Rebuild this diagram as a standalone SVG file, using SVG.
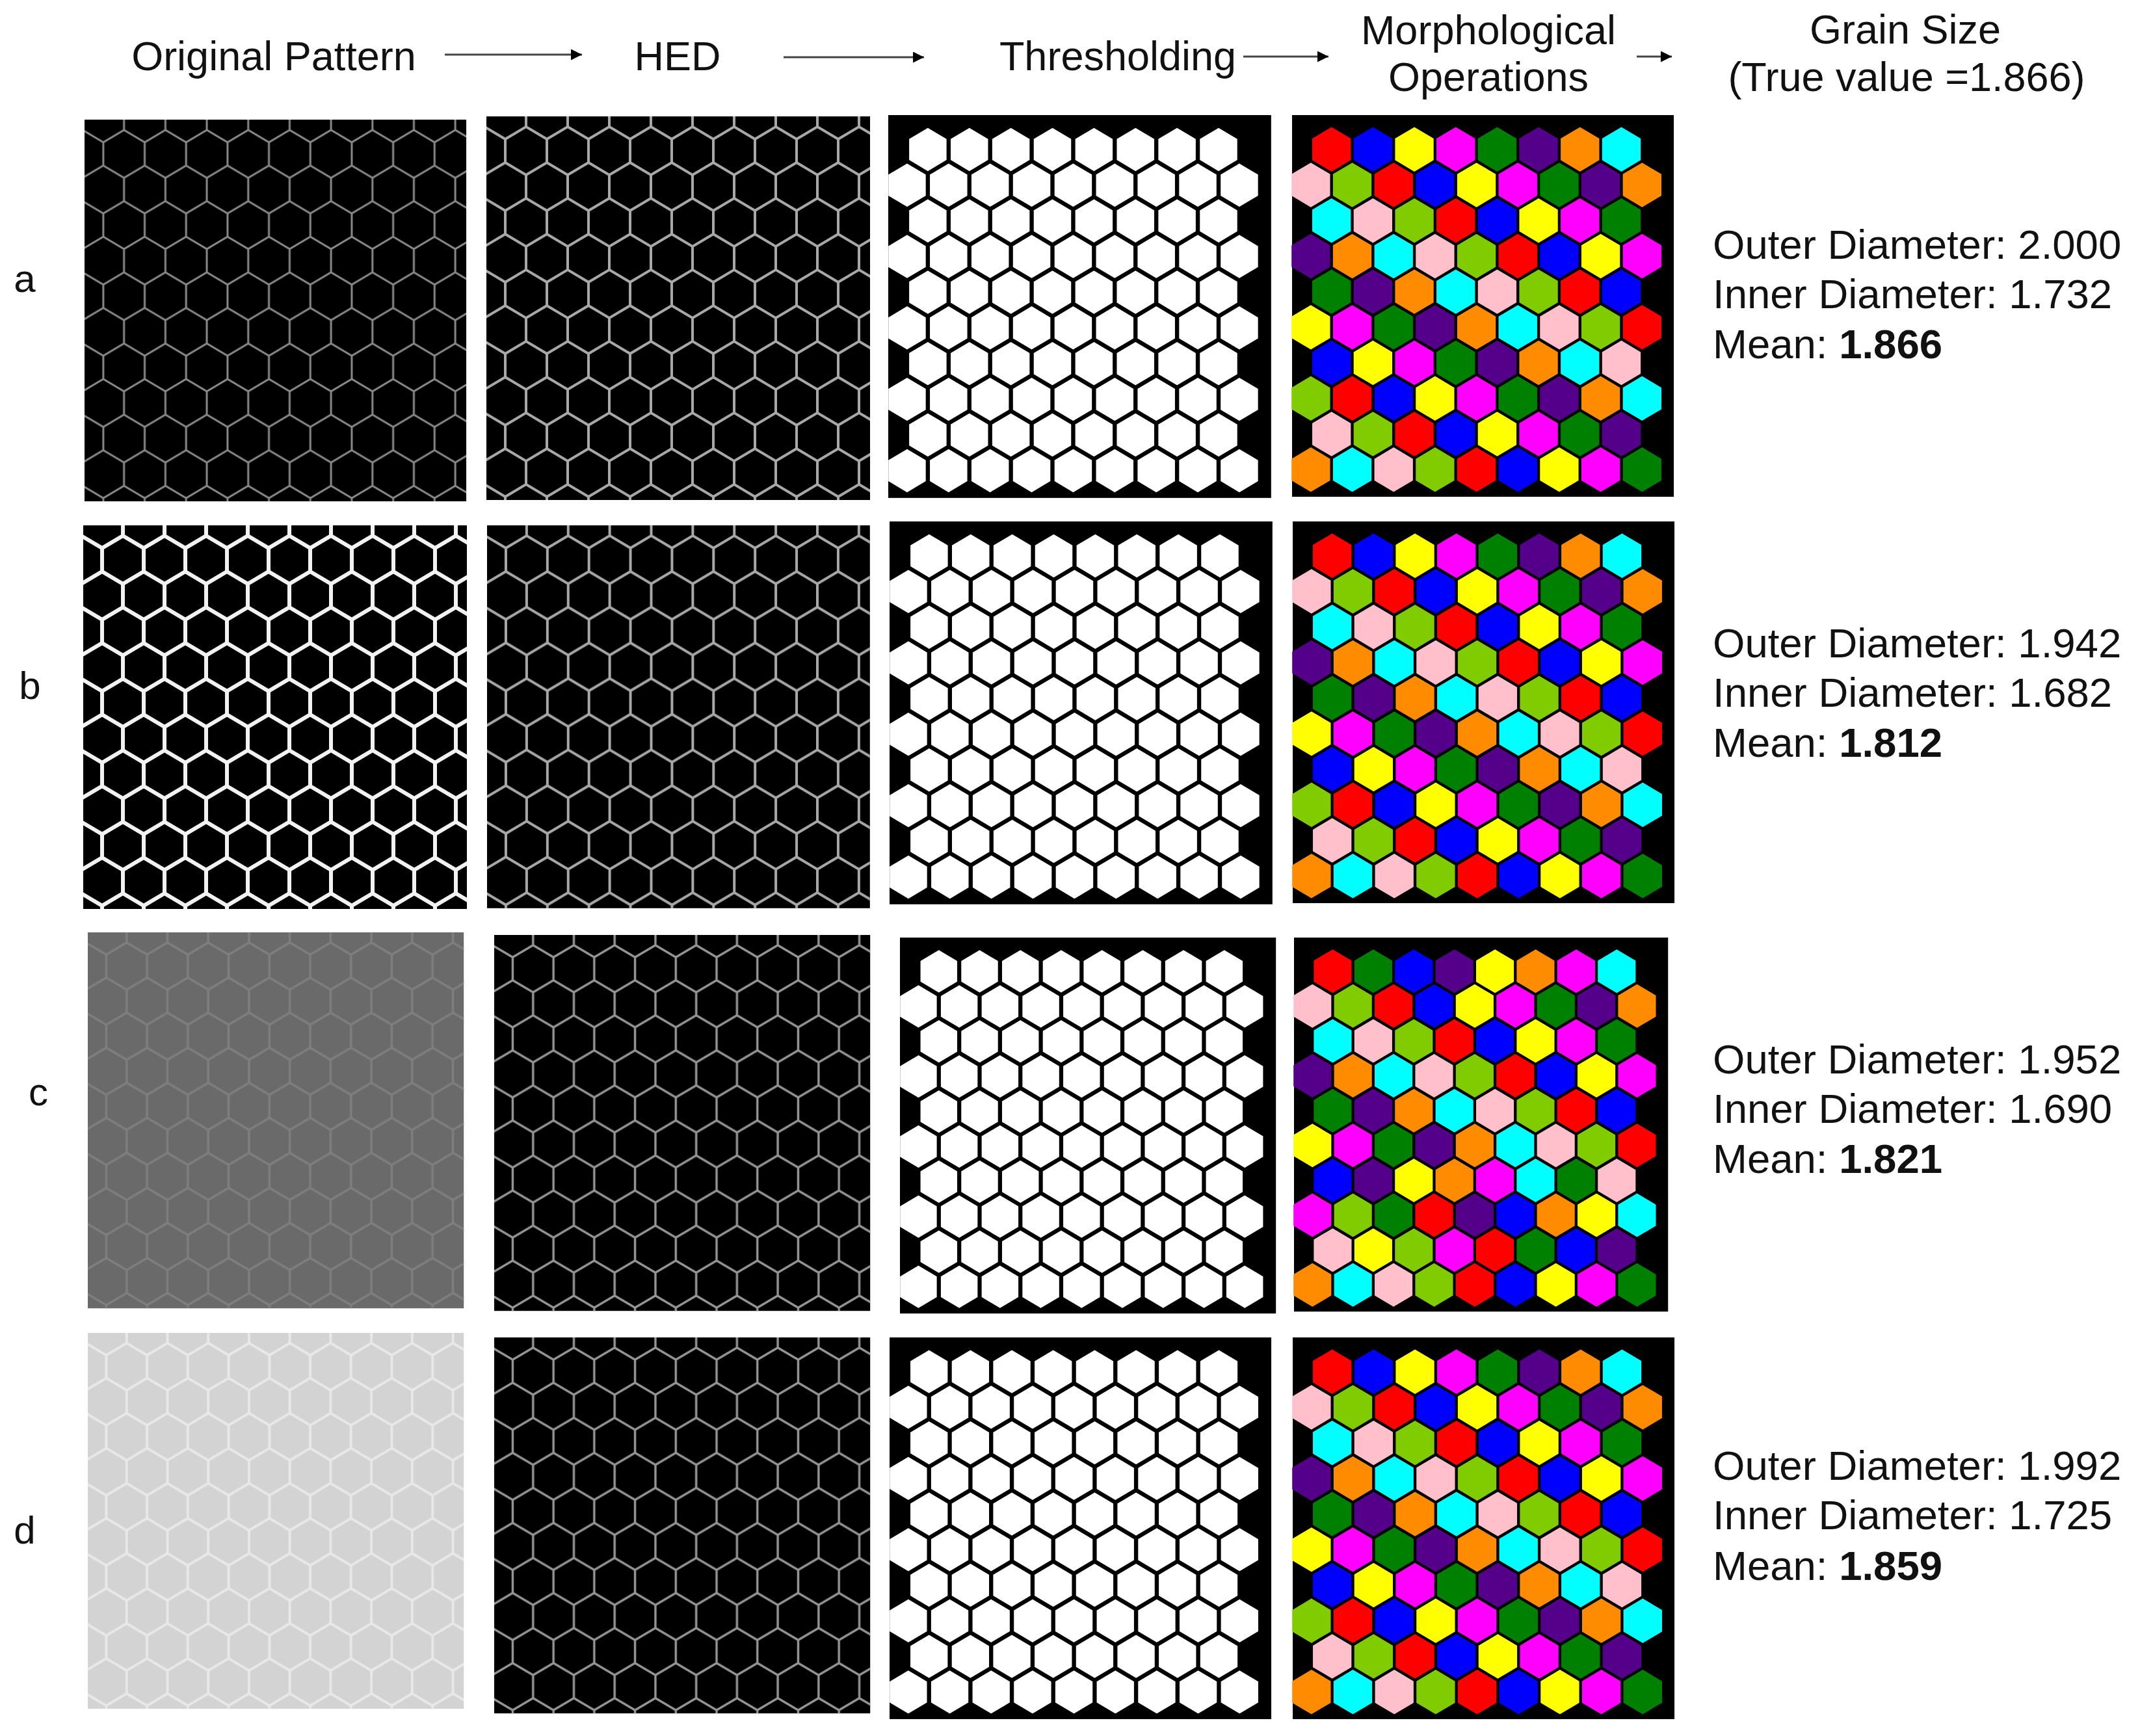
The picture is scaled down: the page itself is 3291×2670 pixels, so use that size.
<svg xmlns="http://www.w3.org/2000/svg" width="3291" height="2670" viewBox="0 0 3291 2670">
<style>
text{font-family:"Liberation Sans",Arial,Helvetica,sans-serif;fill:#111}
.h{font-size:63px;text-anchor:middle}
.lbl{font-size:60px;text-anchor:middle}
.v{font-size:63.5px}
.b{font-weight:bold}
.R{fill:#ff0000}.B{fill:#0000ff}.Y{fill:#ffff00}.M{fill:#ff00ff}.G{fill:#008000}
.P{fill:#55008a}.O{fill:#ff8c00}.C{fill:#00ffff}.K{fill:#ffc0cb}.L{fill:#80cc00}
.conn{stroke:#444;stroke-width:3;fill:none}
</style>
<defs>
<path id="tl" fill="none" d="M0,-37L32,-18L32,18L0,37L-32,18L-32,-18Z M64,-37L96,-18L96,18L64,37L32,18L32,-18Z M32,18L64,37L64,73L32,92L0,73L0,37Z M0,73L32,92L32,128L0,147L-32,128L-32,92Z M64,73L96,92L96,128L64,147L32,128L32,92Z"/>
<pattern id="pA" patternUnits="userSpaceOnUse" x="61" y="53" width="64" height="110"><use href="#tl" stroke="#8a8a8a" stroke-width="3"/></pattern>
<pattern id="pB" patternUnits="userSpaceOnUse" x="61" y="53" width="64" height="110"><use href="#tl" stroke="#f2f2f2" stroke-width="6"/></pattern>
<pattern id="pC" patternUnits="userSpaceOnUse" x="61" y="53" width="64" height="110"><use href="#tl" stroke="#7e7e7e" stroke-width="3.5"/></pattern>
<pattern id="pD" patternUnits="userSpaceOnUse" x="61" y="53" width="64" height="110"><use href="#tl" stroke="#e8e8e8" stroke-width="4"/></pattern>
<pattern id="pH" patternUnits="userSpaceOnUse" x="61" y="53" width="64" height="110"><use href="#tl" stroke="#a8a8a8" stroke-width="4"/></pattern>
<pattern id="pH2" patternUnits="userSpaceOnUse" x="61" y="53" width="64" height="110"><use href="#tl" stroke="#959595" stroke-width="3.5"/></pattern>
<path id="ht" d="M0,-33.3L28.8,-16.2L28.8,16.2L0,33.3L-28.8,16.2L-28.8,-16.2Z"/>
<path id="hm" d="M0,-34.4L29.8,-16.7L29.8,16.7L0,34.4L-29.8,16.7L-29.8,-16.7Z"/>
<g id="thr" fill="#fff">
<g transform="translate(0,53)"><use href="#ht" x="61"/><use href="#ht" x="125"/><use href="#ht" x="189"/><use href="#ht" x="253"/><use href="#ht" x="317"/><use href="#ht" x="381"/><use href="#ht" x="445"/><use href="#ht" x="509"/></g>
<g transform="translate(0,108)"><use href="#ht" x="29"/><use href="#ht" x="93"/><use href="#ht" x="157"/><use href="#ht" x="221"/><use href="#ht" x="285"/><use href="#ht" x="349"/><use href="#ht" x="413"/><use href="#ht" x="477"/><use href="#ht" x="541"/></g>
<g transform="translate(0,163)"><use href="#ht" x="61"/><use href="#ht" x="125"/><use href="#ht" x="189"/><use href="#ht" x="253"/><use href="#ht" x="317"/><use href="#ht" x="381"/><use href="#ht" x="445"/><use href="#ht" x="509"/></g>
<g transform="translate(0,218)"><use href="#ht" x="29"/><use href="#ht" x="93"/><use href="#ht" x="157"/><use href="#ht" x="221"/><use href="#ht" x="285"/><use href="#ht" x="349"/><use href="#ht" x="413"/><use href="#ht" x="477"/><use href="#ht" x="541"/></g>
<g transform="translate(0,273)"><use href="#ht" x="61"/><use href="#ht" x="125"/><use href="#ht" x="189"/><use href="#ht" x="253"/><use href="#ht" x="317"/><use href="#ht" x="381"/><use href="#ht" x="445"/><use href="#ht" x="509"/></g>
<g transform="translate(0,328)"><use href="#ht" x="29"/><use href="#ht" x="93"/><use href="#ht" x="157"/><use href="#ht" x="221"/><use href="#ht" x="285"/><use href="#ht" x="349"/><use href="#ht" x="413"/><use href="#ht" x="477"/><use href="#ht" x="541"/></g>
<g transform="translate(0,383)"><use href="#ht" x="61"/><use href="#ht" x="125"/><use href="#ht" x="189"/><use href="#ht" x="253"/><use href="#ht" x="317"/><use href="#ht" x="381"/><use href="#ht" x="445"/><use href="#ht" x="509"/></g>
<g transform="translate(0,438)"><use href="#ht" x="29"/><use href="#ht" x="93"/><use href="#ht" x="157"/><use href="#ht" x="221"/><use href="#ht" x="285"/><use href="#ht" x="349"/><use href="#ht" x="413"/><use href="#ht" x="477"/><use href="#ht" x="541"/></g>
<g transform="translate(0,493)"><use href="#ht" x="61"/><use href="#ht" x="125"/><use href="#ht" x="189"/><use href="#ht" x="253"/><use href="#ht" x="317"/><use href="#ht" x="381"/><use href="#ht" x="445"/><use href="#ht" x="509"/></g>
<g transform="translate(0,548)"><use href="#ht" x="29"/><use href="#ht" x="93"/><use href="#ht" x="157"/><use href="#ht" x="221"/><use href="#ht" x="285"/><use href="#ht" x="349"/><use href="#ht" x="413"/><use href="#ht" x="477"/><use href="#ht" x="541"/></g>
</g>
<g id="morphA">
<g transform="translate(0,53)"><use href="#hm" x="61" class="R"/><use href="#hm" x="125" class="B"/><use href="#hm" x="189" class="Y"/><use href="#hm" x="253" class="M"/><use href="#hm" x="317" class="G"/><use href="#hm" x="381" class="P"/><use href="#hm" x="445" class="O"/><use href="#hm" x="509" class="C"/></g>
<g transform="translate(0,108)"><use href="#hm" x="29" class="K"/><use href="#hm" x="93" class="L"/><use href="#hm" x="157" class="R"/><use href="#hm" x="221" class="B"/><use href="#hm" x="285" class="Y"/><use href="#hm" x="349" class="M"/><use href="#hm" x="413" class="G"/><use href="#hm" x="477" class="P"/><use href="#hm" x="541" class="O"/></g>
<g transform="translate(0,163)"><use href="#hm" x="61" class="C"/><use href="#hm" x="125" class="K"/><use href="#hm" x="189" class="L"/><use href="#hm" x="253" class="R"/><use href="#hm" x="317" class="B"/><use href="#hm" x="381" class="Y"/><use href="#hm" x="445" class="M"/><use href="#hm" x="509" class="G"/></g>
<g transform="translate(0,218)"><use href="#hm" x="29" class="P"/><use href="#hm" x="93" class="O"/><use href="#hm" x="157" class="C"/><use href="#hm" x="221" class="K"/><use href="#hm" x="285" class="L"/><use href="#hm" x="349" class="R"/><use href="#hm" x="413" class="B"/><use href="#hm" x="477" class="Y"/><use href="#hm" x="541" class="M"/></g>
<g transform="translate(0,273)"><use href="#hm" x="61" class="G"/><use href="#hm" x="125" class="P"/><use href="#hm" x="189" class="O"/><use href="#hm" x="253" class="C"/><use href="#hm" x="317" class="K"/><use href="#hm" x="381" class="L"/><use href="#hm" x="445" class="R"/><use href="#hm" x="509" class="B"/></g>
<g transform="translate(0,328)"><use href="#hm" x="29" class="Y"/><use href="#hm" x="93" class="M"/><use href="#hm" x="157" class="G"/><use href="#hm" x="221" class="P"/><use href="#hm" x="285" class="O"/><use href="#hm" x="349" class="C"/><use href="#hm" x="413" class="K"/><use href="#hm" x="477" class="L"/><use href="#hm" x="541" class="R"/></g>
<g transform="translate(0,383)"><use href="#hm" x="61" class="B"/><use href="#hm" x="125" class="Y"/><use href="#hm" x="189" class="M"/><use href="#hm" x="253" class="G"/><use href="#hm" x="317" class="P"/><use href="#hm" x="381" class="O"/><use href="#hm" x="445" class="C"/><use href="#hm" x="509" class="K"/></g>
<g transform="translate(0,438)"><use href="#hm" x="29" class="L"/><use href="#hm" x="93" class="R"/><use href="#hm" x="157" class="B"/><use href="#hm" x="221" class="Y"/><use href="#hm" x="285" class="M"/><use href="#hm" x="349" class="G"/><use href="#hm" x="413" class="P"/><use href="#hm" x="477" class="O"/><use href="#hm" x="541" class="C"/></g>
<g transform="translate(0,493)"><use href="#hm" x="61" class="K"/><use href="#hm" x="125" class="L"/><use href="#hm" x="189" class="R"/><use href="#hm" x="253" class="B"/><use href="#hm" x="317" class="Y"/><use href="#hm" x="381" class="M"/><use href="#hm" x="445" class="G"/><use href="#hm" x="509" class="P"/></g>
<g transform="translate(0,548)"><use href="#hm" x="29" class="O"/><use href="#hm" x="93" class="C"/><use href="#hm" x="157" class="K"/><use href="#hm" x="221" class="L"/><use href="#hm" x="285" class="R"/><use href="#hm" x="349" class="B"/><use href="#hm" x="413" class="Y"/><use href="#hm" x="477" class="M"/><use href="#hm" x="541" class="G"/></g>
</g>
<marker id="ah" viewBox="0 0 10 10" refX="10" refY="5" markerWidth="17" markerHeight="17" markerUnits="userSpaceOnUse" orient="auto"><path d="M0,0L10,5L0,10Z" fill="#000"/></marker>
</defs>
<rect width="3291" height="2670" fill="#fff"/>

<g id="header">
<text class="h" x="421" y="108">Original Pattern</text>
<text class="h" x="1042" y="108">HED</text>
<text class="h" x="1719" y="108">Thresholding</text>
<text class="h" x="2289" y="68">Morphological</text>
<text class="h" x="2289" y="140">Operations</text>
<text class="h" x="2930" y="67">Grain Size</text>
<text class="h" x="2932" y="140">(True value =1.866)</text>
</g>

<g id="connectors">
<line class="conn" x1="684" y1="84" x2="895" y2="84" marker-end="url(#ah)"/>
<line class="conn" x1="1205" y1="88" x2="1421" y2="88" marker-end="url(#ah)"/>
<line class="conn" x1="1912" y1="87" x2="2043" y2="87" marker-end="url(#ah)"/>
<line class="conn" x1="2517" y1="87" x2="2571" y2="87" marker-end="url(#ah)"/>
</g>

<g id="row-labels">
<text class="lbl" x="38" y="449">a</text>
<text class="lbl" x="46" y="1075">b</text>
<text class="lbl" x="59" y="1700">c</text>
<text class="lbl" x="38" y="2374">d</text>
</g>

<!-- Row a -->
<g id="a-original" transform="translate(130,184) scale(0.995)"><rect width="590" height="590" fill="#000"/><rect width="590" height="590" fill="url(#pA)"/></g>
<g id="a-hed" transform="translate(748,179) scale(1)"><rect width="590" height="590" fill="#000"/><rect width="590" height="590" fill="url(#pH)"/></g>
<g id="a-threshold" transform="translate(1366,177) scale(0.998)"><rect width="590" height="590" fill="#000"/><use href="#thr"/></g>
<g id="a-morph" transform="translate(1987,177) scale(0.995)"><rect width="590" height="590" fill="#000"/><use href="#morphA"/></g>
<g id="a-grain">
<text class="v" x="2634" y="398">Outer Diameter: 2.000</text>
<text class="v" x="2634" y="474">Inner Diameter: 1.732</text>
<text class="v" x="2634" y="551">Mean: <tspan class="b">1.866</tspan></text>
</g>

<!-- Row b -->
<g id="b-original" transform="translate(128,808) scale(1)"><rect width="590" height="590" fill="#000"/><rect width="590" height="590" fill="url(#pB)"/></g>
<g id="b-hed" transform="translate(749,808) scale(0.998)"><rect width="590" height="590" fill="#000"/><rect width="590" height="590" fill="url(#pH)"/></g>
<g id="b-threshold" transform="translate(1368,802) scale(0.998)"><rect width="590" height="590" fill="#000"/><use href="#thr"/></g>
<g id="b-morph" transform="translate(1988,802) scale(0.995)"><rect width="590" height="590" fill="#000"/><use href="#morphA"/></g>
<g id="b-grain">
<text class="v" x="2634" y="1011">Outer Diameter: 1.942</text>
<text class="v" x="2634" y="1087">Inner Diameter: 1.682</text>
<text class="v" x="2634" y="1164">Mean: <tspan class="b">1.812</tspan></text>
</g>

<!-- Row c -->
<g id="c-original" transform="translate(135,1434) scale(0.98)"><rect width="590" height="590" fill="#6a6a6a"/><rect width="590" height="590" fill="url(#pC)"/></g>
<g id="c-hed" transform="translate(760,1438) scale(0.98)"><rect width="590" height="590" fill="#000"/><rect width="590" height="590" fill="url(#pH2)"/></g>
<g id="c-threshold" transform="translate(1384,1442) scale(0.98)"><rect width="590" height="590" fill="#000"/><use href="#thr"/></g>
<g id="c-morph" transform="translate(1990,1442) scale(0.975)"><rect width="590" height="590" fill="#000"/>
<g transform="translate(0,53)"><use href="#hm" x="61" class="R"/><use href="#hm" x="125" class="G"/><use href="#hm" x="189" class="B"/><use href="#hm" x="253" class="P"/><use href="#hm" x="317" class="Y"/><use href="#hm" x="381" class="O"/><use href="#hm" x="445" class="M"/><use href="#hm" x="509" class="C"/></g>
<g transform="translate(0,108)"><use href="#hm" x="29" class="K"/><use href="#hm" x="93" class="L"/><use href="#hm" x="157" class="R"/><use href="#hm" x="221" class="B"/><use href="#hm" x="285" class="Y"/><use href="#hm" x="349" class="M"/><use href="#hm" x="413" class="G"/><use href="#hm" x="477" class="P"/><use href="#hm" x="541" class="O"/></g>
<g transform="translate(0,163)"><use href="#hm" x="61" class="C"/><use href="#hm" x="125" class="K"/><use href="#hm" x="189" class="L"/><use href="#hm" x="253" class="R"/><use href="#hm" x="317" class="B"/><use href="#hm" x="381" class="Y"/><use href="#hm" x="445" class="M"/><use href="#hm" x="509" class="G"/></g>
<g transform="translate(0,218)"><use href="#hm" x="29" class="P"/><use href="#hm" x="93" class="O"/><use href="#hm" x="157" class="C"/><use href="#hm" x="221" class="K"/><use href="#hm" x="285" class="L"/><use href="#hm" x="349" class="R"/><use href="#hm" x="413" class="B"/><use href="#hm" x="477" class="Y"/><use href="#hm" x="541" class="M"/></g>
<g transform="translate(0,273)"><use href="#hm" x="61" class="G"/><use href="#hm" x="125" class="P"/><use href="#hm" x="189" class="O"/><use href="#hm" x="253" class="C"/><use href="#hm" x="317" class="K"/><use href="#hm" x="381" class="L"/><use href="#hm" x="445" class="R"/><use href="#hm" x="509" class="B"/></g>
<g transform="translate(0,328)"><use href="#hm" x="29" class="Y"/><use href="#hm" x="93" class="M"/><use href="#hm" x="157" class="G"/><use href="#hm" x="221" class="P"/><use href="#hm" x="285" class="O"/><use href="#hm" x="349" class="C"/><use href="#hm" x="413" class="K"/><use href="#hm" x="477" class="L"/><use href="#hm" x="541" class="R"/></g>
<g transform="translate(0,383)"><use href="#hm" x="61" class="B"/><use href="#hm" x="125" class="P"/><use href="#hm" x="189" class="Y"/><use href="#hm" x="253" class="O"/><use href="#hm" x="317" class="M"/><use href="#hm" x="381" class="C"/><use href="#hm" x="445" class="G"/><use href="#hm" x="509" class="K"/></g>
<g transform="translate(0,438)"><use href="#hm" x="29" class="M"/><use href="#hm" x="93" class="L"/><use href="#hm" x="157" class="G"/><use href="#hm" x="221" class="R"/><use href="#hm" x="285" class="P"/><use href="#hm" x="349" class="B"/><use href="#hm" x="413" class="O"/><use href="#hm" x="477" class="Y"/><use href="#hm" x="541" class="C"/></g>
<g transform="translate(0,493)"><use href="#hm" x="61" class="K"/><use href="#hm" x="125" class="Y"/><use href="#hm" x="189" class="L"/><use href="#hm" x="253" class="M"/><use href="#hm" x="317" class="R"/><use href="#hm" x="381" class="G"/><use href="#hm" x="445" class="B"/><use href="#hm" x="509" class="P"/></g>
<g transform="translate(0,548)"><use href="#hm" x="29" class="O"/><use href="#hm" x="93" class="C"/><use href="#hm" x="157" class="K"/><use href="#hm" x="221" class="L"/><use href="#hm" x="285" class="R"/><use href="#hm" x="349" class="B"/><use href="#hm" x="413" class="Y"/><use href="#hm" x="477" class="M"/><use href="#hm" x="541" class="G"/></g>
</g>
<g id="c-grain">
<text class="v" x="2634" y="1651">Outer Diameter: 1.952</text>
<text class="v" x="2634" y="1727">Inner Diameter: 1.690</text>
<text class="v" x="2634" y="1804">Mean: <tspan class="b">1.821</tspan></text>
</g>

<!-- Row d -->
<g id="d-original" transform="translate(135,2050) scale(0.98)"><rect width="590" height="590" fill="#d3d3d3"/><rect width="590" height="590" fill="url(#pD)"/></g>
<g id="d-hed" transform="translate(760,2057) scale(0.98)"><rect width="590" height="590" fill="#000"/><rect width="590" height="590" fill="url(#pH2)"/></g>
<g id="d-threshold" transform="translate(1368,2057) scale(0.995)"><rect width="590" height="590" fill="#000"/><use href="#thr"/></g>
<g id="d-morph" transform="translate(1988,2057) scale(0.995)"><rect width="590" height="590" fill="#000"/><use href="#morphA"/></g>
<g id="d-grain">
<text class="v" x="2634" y="2276">Outer Diameter: 1.992</text>
<text class="v" x="2634" y="2352">Inner Diameter: 1.725</text>
<text class="v" x="2634" y="2430">Mean: <tspan class="b">1.859</tspan></text>
</g>
</svg>
